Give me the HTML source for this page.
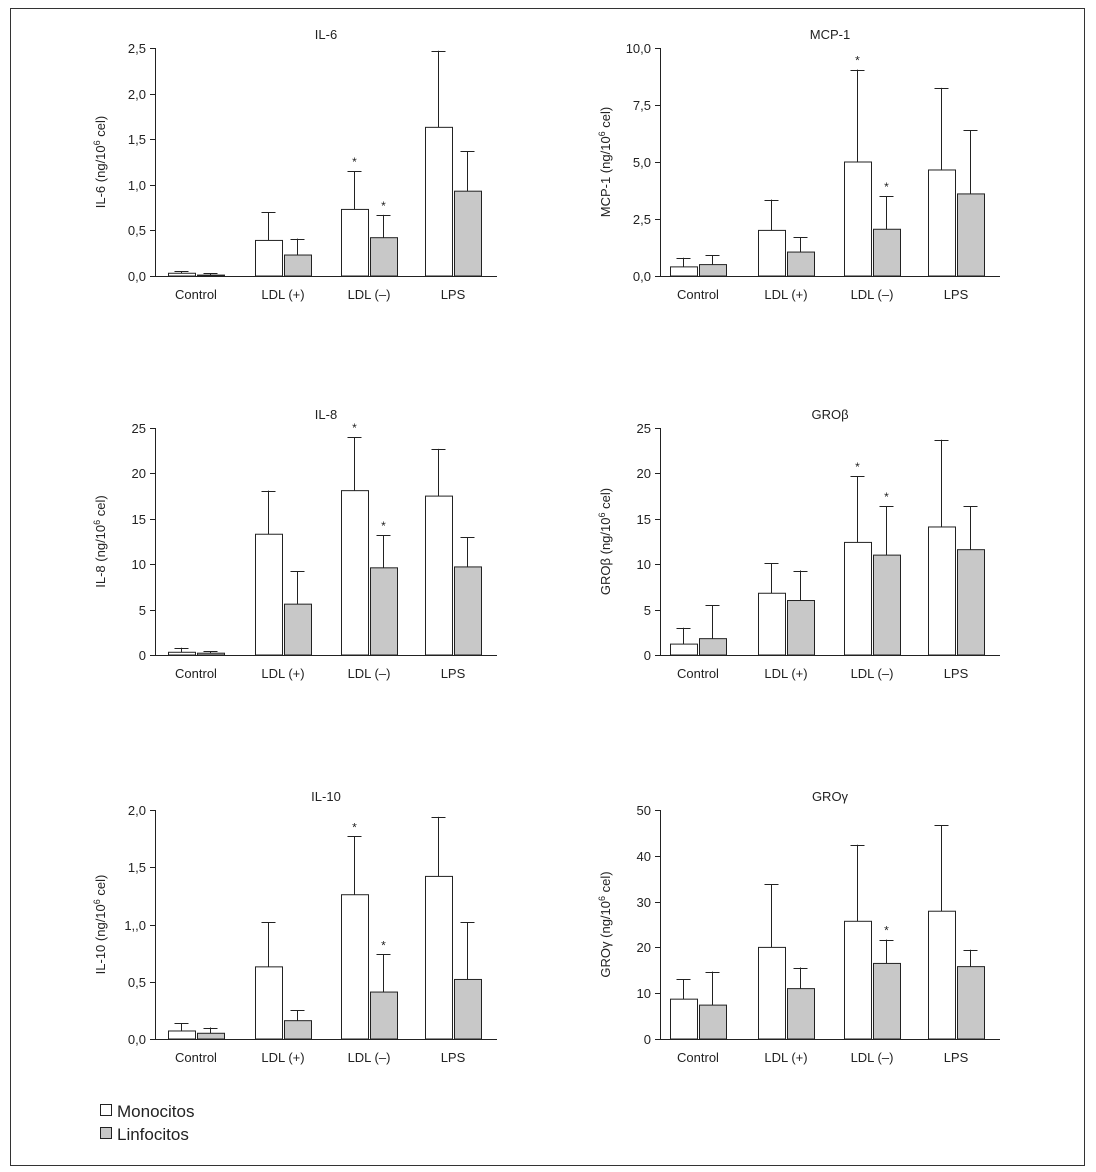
<!DOCTYPE html>
<html><head><meta charset="utf-8"><style>
body{margin:0;background:#fff;}
svg{display:block;font-family:"Liberation Sans",sans-serif;}
</style></head><body>
<svg id="c" width="1096" height="1172" xmlns="http://www.w3.org/2000/svg">
<rect x="10.5" y="8.5" width="1074" height="1157" fill="none" stroke="#333" stroke-width="1"/>
<g>
<rect x="100.5" y="1104.5" width="11" height="11" fill="#fff" stroke="#222"/>
<text x="117" y="1117" font-size="17" fill="#222">Monocitos</text>
<rect x="100.5" y="1127.5" width="11" height="11" fill="#c8c8c8" stroke="#222"/>
<text x="117" y="1140" font-size="17" fill="#222">Linfocitos</text>
</g>
</svg>
<script>
const categories=["Control","LDL (+)","LDL (\u2013)","LPS"];
const titles=["IL-6","MCP-1","IL-8","GRO\u03b2","IL-10","GRO\u03b3"];
const yNames=["IL-6","MCP-1","IL-8","GRO\u03b2","IL-10","GRO\u03b3"];
const yMax=[2.5,10,25,25,2,50];
const tickLabels=[
["0,0","0,5","1,0","1,5","2,0","2,5"],
["0,0","2,5","5,0","7,5","10,0"],
["0","5","10","15","20","25"],
["0","5","10","15","20","25"],
["0,0","0,5","1,,0","1,5","2,0"],
["0","10","20","30","40","50"]];
const monoVals=[[0.03,0.39,0.73,1.63],[0.4,2.0,5.0,4.65],[0.3,13.3,18.1,17.5],[1.2,6.8,12.4,14.1],[0.07,0.63,1.26,1.42],[8.7,20,25.7,27.9]];
const monoErr=[[0.05,0.70,1.15,2.47],[0.8,3.35,9.05,8.25],[0.8,18.1,24.0,22.7],[3.0,10.1,19.7,23.7],[0.14,1.02,1.77,1.94],[13,33.8,42.4,46.7]];
const lymphVals=[[0.01,0.23,0.42,0.93],[0.5,1.05,2.05,3.6],[0.2,5.6,9.6,9.7],[1.8,6.0,11.0,11.6],[0.05,0.16,0.41,0.52],[7.4,11,16.5,15.8]];
const lymphErr=[[0.03,0.41,0.67,1.37],[0.9,1.7,3.5,6.4],[0.4,9.2,13.2,13.0],[5.5,9.3,16.4,16.4],[0.1,0.25,0.74,1.02],[14.7,15.6,21.7,19.5]];
const monoStar=[[0,0,1,0],[0,0,1,0],[0,0,1,0],[0,0,1,0],[0,0,1,0],[0,0,0,0]];
const lymphStar=[[0,0,1,0],[0,0,1,0],[0,0,1,0],[0,0,1,0],[0,0,1,0],[0,0,1,0]];

const svg=document.getElementById('c');
const NS='http://www.w3.org/2000/svg';
function mk(t,a,p){const e=document.createElementNS(NS,t);for(const k in a)e.setAttribute(k,a[k]);p.appendChild(e);return e;}
const rows=[[48,276],[428,655],[810,1039]];
const cols=[[155,497],[660,1000]];
const catOffs=[[41,128,214,298],[38,126,212,296]];
for(let i=0;i<6;i++){
  const [x0,x1]=cols[i%2];const [yt,yb]=rows[Math.floor(i/2)];
  const catOff=catOffs[i%2];
  const g=mk('g',{},svg);
  
  
  const ys=v=>yb-(v/yMax[i])*(yb-yt);
  const ax=mk('line',{x1:x0+.5,y1:yt,x2:x0+.5,y2:yb+.5,stroke:'#222'},g);
  
  const xa=mk('line',{x1:x0,y1:yb+.5,x2:x1,y2:yb+.5,stroke:'#222'},g);
  
  const tl=tickLabels[i];
  tl.forEach((lab,k)=>{const v=yMax[i]*k/(tl.length-1);const y=Math.round(ys(v))+.5;
    const tk=mk('line',{x1:x0-5,y1:y,x2:x0,y2:y,stroke:'#222'},g);
    
    const t=mk('text',{x:x0-9,y:y+4.5,'font-size':13,'text-anchor':'end',fill:'#222'},g);t.textContent=lab;
    });
  const tt=mk('text',{x:(x0+x1)/2,y:yt-9,'font-size':13,'text-anchor':'middle',fill:'#222'},g);tt.textContent=titles[i];
  
  const yx=x0-50,yc=(yt+yb)/2;
  const yt2=mk('text',{x:yx,y:yc,'font-size':13,'text-anchor':'middle',fill:'#222',transform:`rotate(-90 ${yx} ${yc})`},g);
  yt2.innerHTML=yNames[i]+' (ng/10<tspan dy="-5" font-size="9">6</tspan><tspan dy="5"> cel)</tspan>';
  
  categories.forEach((c,j)=>{const cx=x0+catOff[j];
    const cl=mk('text',{x:cx,y:yb+23,'font-size':13,'text-anchor':'middle',fill:'#222'},g);cl.textContent=c;
    
    [[monoVals,monoErr,monoStar,cx-28,'#fff','mono'],[lymphVals,lymphErr,lymphStar,cx+1,'#c8c8c8','lymph']].forEach(([V,E,S,bx,fill,nm])=>{
      const v=V[i][j],e=E[i][j];const top=ys(v),et=ys(e),mid=bx+13.5;
      const el=mk('line',{x1:mid,y1:et,x2:mid,y2:top,stroke:'#222'},g);
      
      const ec=mk('line',{x1:mid-7,y1:Math.round(et)+.5,x2:mid+7,y2:Math.round(et)+.5,stroke:'#222'},g);
      
      const r=mk('rect',{x:bx+.5,y:top,width:27,height:Math.max(0,yb-top),fill:fill,stroke:'#222'},g);
      
      if(S[i][j]){const s=mk('text',{x:mid,y:et-5,'font-size':12,'text-anchor':'middle',fill:'#222'},g);s.textContent='*';
        }
    });
  });
}
</script>
</body></html>
